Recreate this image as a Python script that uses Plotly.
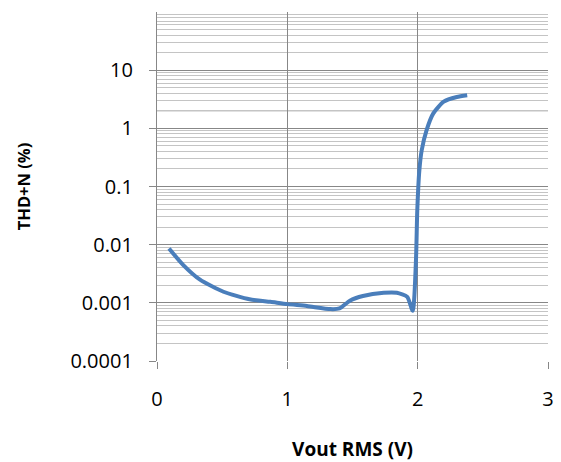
import plotly.graph_objects as go

vout = [0.092, 0.20, 0.33, 0.51, 0.71, 0.87, 1.00, 1.15, 1.33, 1.40, 1.48, 1.58, 1.74, 1.84, 1.92, 1.962,
        1.987, 1.997, 2.013, 2.031, 2.069, 2.12, 2.20, 2.30, 2.38]
thdn = [0.0086, 0.0045, 0.0025, 0.00155, 0.00115, 0.00104, 0.00095, 0.00088, 0.00078, 0.00080, 0.00109,
        0.00131, 0.00149, 0.00149, 0.00127, 0.00073,
        0.0054, 0.039, 0.19, 0.42, 0.94, 1.81, 2.87, 3.45, 3.7]

ytickvals = [0.0001, 0.001, 0.01, 0.1, 1, 10]
yticktext = ["0.0001", "0.001", "0.01", "0.1", "1", "10"]
xtickvals = [0, 1, 2, 3]

major = "#878787"
minor = "#c4c4c4"
font = "Open Sans"

fig = go.Figure()
fig.add_trace(go.Scatter(x=vout, y=thdn, mode="lines",
                         line=dict(color="#4a7ebb", width=4, shape="spline", smoothing=0.6),
                         showlegend=False, hoverinfo="skip"))

fig.add_shape(type="line", xref="paper", yref="y", x0=0, x1=1, y0=2, y1=2,
              line=dict(color=minor, width=1.3), layer="below")

fig.update_layout(
    width=561, height=462,
    margin=dict(l=157, r=13, t=12, b=101, autoexpand=False),
    paper_bgcolor="white", plot_bgcolor="white",
    font=dict(family=font, size=20, color="black"),
    xaxis=dict(range=[0, 3], tickvals=xtickvals, showgrid=True, gridcolor=major, gridwidth=1.3,
               ticks="outside", ticklen=7, tickcolor=major, zeroline=False, showline=False,
               ticklabelstandoff=13, automargin=False,
               title=dict(text="<b>Vout RMS (V)</b>", font=dict(size=19), standoff=34)),
    yaxis=dict(type="log", range=[-4, 2], tickvals=ytickvals, ticktext=yticktext,
               showgrid=True, gridcolor=major, gridwidth=1.3,
               ticks="outside", ticklen=7, tickcolor=major, showline=True, linecolor=major, linewidth=1.3,
               ticklabelstandoff=12, automargin=False,
               minor=dict(dtick="D1", showgrid=True, gridcolor=minor, gridwidth=1.3, ticks=""),
               title=dict(text="<b>THD+N (%)</b>", font=dict(size=16.5), standoff=35)),
)

fig.write_html("out.html", config={"displayModeBar": False},
               post_script="document.body.style.margin='0';")
